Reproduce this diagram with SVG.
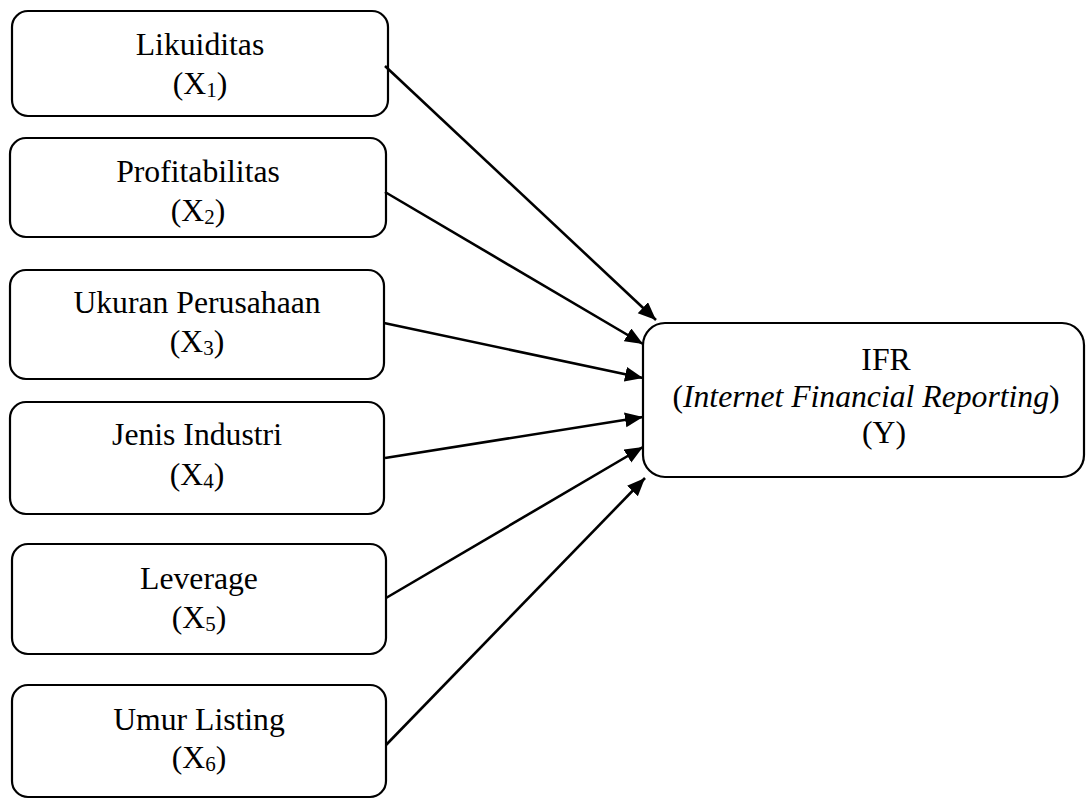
<svg xmlns="http://www.w3.org/2000/svg" width="1086" height="799" viewBox="0 0 1086 799">
<style>
.box{fill:#fff;stroke:#000;stroke-width:2.2}
.t{font-family:"Liberation Serif","Times New Roman","DejaVu Serif",serif;font-size:31.7px;fill:#000;text-anchor:middle}
.sub{font-size:21px}
.conn line{stroke:#000;stroke-width:2.6;marker-end:url(#ah)}
</style>
<defs>
<marker id="ah" markerUnits="userSpaceOnUse" markerWidth="20" markerHeight="16" refX="18" refY="7.5" orient="auto">
<path d="M0,0 L18,7.5 L0,15 z" fill="#000"/>
</marker>
</defs>
<rect width="1086" height="799" fill="#fff"/>
<g id="x1">
<rect class="box" x="12" y="11" width="376" height="105" rx="16"/>
<text class="t" x="200" y="55">Likuiditas</text>
<text class="t" x="200" y="94">(X<tspan class="sub" dy="3">1</tspan><tspan dy="-3">)</tspan></text>
</g>
<g id="x2">
<rect class="box" x="10" y="138" width="376" height="99" rx="16"/>
<text class="t" x="198" y="182">Profitabilitas</text>
<text class="t" x="198" y="221">(X<tspan class="sub" dy="3">2</tspan><tspan dy="-3">)</tspan></text>
</g>
<g id="x3">
<rect class="box" x="10" y="270" width="374" height="109" rx="16"/>
<text class="t" x="197" y="313">Ukuran Perusahaan</text>
<text class="t" x="197" y="352">(X<tspan class="sub" dy="3">3</tspan><tspan dy="-3">)</tspan></text>
</g>
<g id="x4">
<rect class="box" x="10" y="402" width="374" height="112" rx="16"/>
<text class="t" x="197" y="445">Jenis Industri</text>
<text class="t" x="197" y="485">(X<tspan class="sub" dy="3">4</tspan><tspan dy="-3">)</tspan></text>
</g>
<g id="x5">
<rect class="box" x="12" y="544" width="374" height="110" rx="16"/>
<text class="t" x="199" y="589">Leverage</text>
<text class="t" x="199" y="628">(X<tspan class="sub" dy="3">5</tspan><tspan dy="-3">)</tspan></text>
</g>
<g id="x6">
<rect class="box" x="12" y="685" width="374" height="112" rx="16"/>
<text class="t" x="199" y="730">Umur Listing</text>
<text class="t" x="199" y="768">(X<tspan class="sub" dy="3">6</tspan><tspan dy="-3">)</tspan></text>
</g>
<g id="y">
<rect class="box" x="643" y="323" width="441" height="154" rx="22"/>
<text class="t" x="886" y="370">IFR</text>
<text class="t" x="866" y="407">(<tspan font-style="italic">Internet Financial Reporting</tspan>)</text>
<text class="t" x="884" y="443">(Y)</text>
</g>
<g id="connectors" class="conn">
<line x1="385" y1="66" x2="656" y2="320"/>
<line x1="385" y1="192" x2="643" y2="344"/>
<line x1="384" y1="323" x2="643" y2="378"/>
<line x1="385" y1="458" x2="643" y2="417"/>
<line x1="386" y1="598" x2="643" y2="447"/>
<line x1="386" y1="745" x2="645" y2="478"/>
</g>
</svg>
